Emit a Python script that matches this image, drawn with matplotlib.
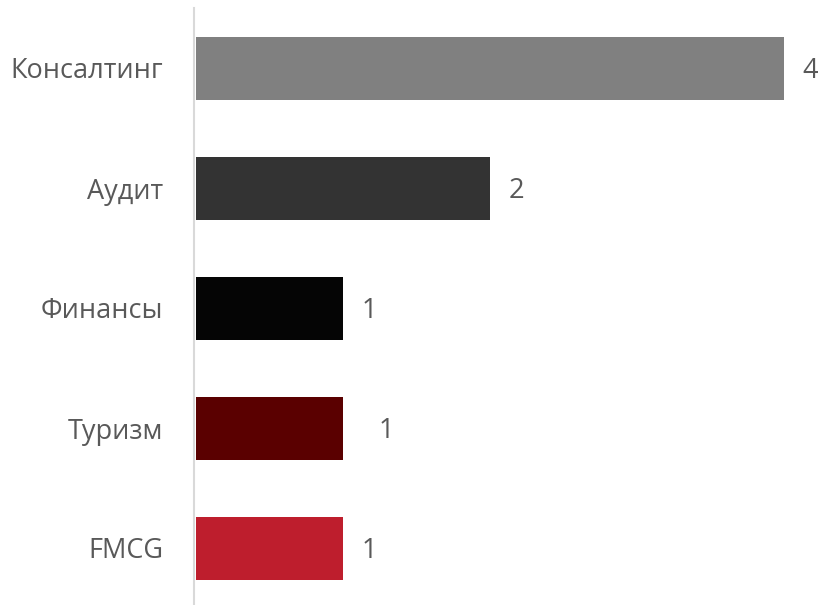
import matplotlib
matplotlib.use("Agg")
import matplotlib.pyplot as plt

categories = ["Консалтинг", "Аудит", "Финансы", "Туризм", "FMCG"]
values = [4, 2, 1, 1, 1]
colors = ["#808080", "#333333", "#050505", "#5a0000", "#be1e2d"]

plt.rcParams['font.family'] = ['Open Sans', 'DejaVu Sans']
text_color = "#595959"

W, H = 819, 605
fig = plt.figure(figsize=(W / 100, H / 100), dpi=100)
left_px, right_px, top_px, bottom_px = 194, 801, 8, 608
ax = fig.add_axes([left_px / W, (H - bottom_px) / H,
                   (right_px - left_px) / W, (bottom_px - top_px) / H])

ypos = list(range(len(categories)))
ax.barh(ypos, values, height=0.525, color=colors)
ax.set_ylim(len(categories) - 0.5, -0.5)
ax.set_xlim(-0.015, 4.115)

ax.set_yticks(ypos)
ax.set_yticklabels(categories, fontsize=19.5, color=text_color)
ax.tick_params(axis='y', length=0, pad=22)
ax.set_xticks([])

for s in ['top', 'right', 'bottom']:
    ax.spines[s].set_visible(False)
ax.spines['left'].set_color('#d9d9d9')
ax.spines['left'].set_linewidth(1.5)

nudge = {3: 35}
for i, v in enumerate(values):
    ax.annotate(str(v), xy=(v, i), xytext=(nudge.get(i, 18) * 0.72, -2),
                textcoords='offset points', va='center', ha='left',
                fontsize=19.5, color=text_color)

fig.savefig("out.png", dpi=100)
